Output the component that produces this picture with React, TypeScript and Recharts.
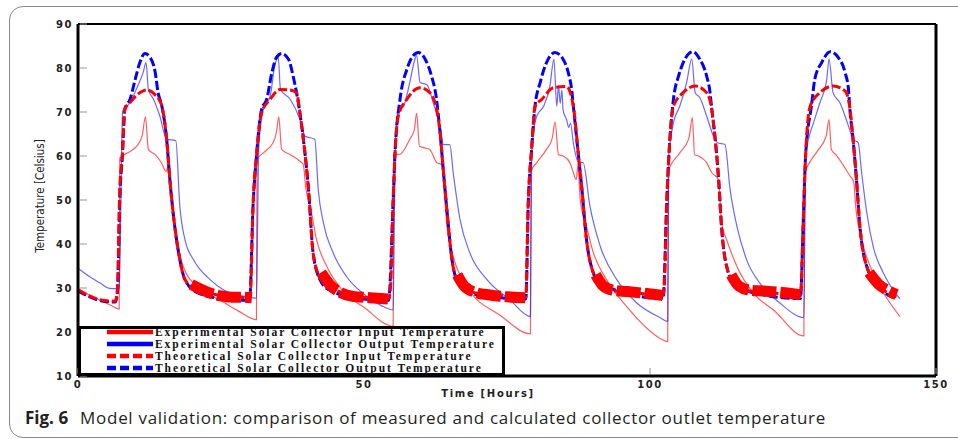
import React from "react";
import { LineChart, Line, XAxis, YAxis, Legend } from "recharts";

type Pt = [number, number | null];

// [time in hours, temperature in Celsius]
const expInput: Pt[] = [
  [0, 29.8], [2, 28.4], [4, 27.1], [6, 25.9], [7.2, 25.2],
  [7.3, 59.5], [8.8, 60.8], [10.3, 62.3], [11.2, 64.5], [11.8, 68.9], [12.3, 61.5], [13.5, 60.3], [14.6, 58.4],
  [15.4, 56.5], [15.8, 58], [16.3, 52], [16.7, 47.1], [17.3, 41], [18.4, 34.9], [20.8, 30.3], [24.8, 27.3], [28, 24.8], [31.2, 22.8],
  [31.3, 59.2], [32.4, 60.7], [34.1, 63], [34.7, 65.5], [35.1, 68.9], [35.6, 61.5], [37.1, 60.3], [38.8, 58.8], [39.4, 58],
  [39.8, 53], [40.6, 48.6], [41.7, 41], [43.5, 34.9], [46.4, 29.2], [50, 25.6], [55.1, 21.3],
  [55.2, 60.3], [56.3, 60.4], [58, 63.8], [58.8, 66], [59.2, 69.7], [59.7, 62.2], [61.5, 61.5], [62.7, 58.5], [63.6, 58],
  [64, 53.9], [64.5, 44], [65.6, 37.2], [68, 30.3], [73.8, 23.8], [79.1, 19.6],
  [79.2, 56.5], [80.2, 58.5], [81.9, 61.5], [82.9, 64], [83.4, 67.7], [84, 60.3], [84.8, 60], [86, 58.5], [86.6, 56.2],
  [87.1, 54.6], [87.4, 58], [87.8, 50.1], [88.9, 44], [90.1, 38], [92.4, 31.9], [95.9, 25.8], [101.7, 18.6], [103.1, 17.8],
  [103.2, 56.5], [105.2, 60.7], [106.8, 64], [107.4, 68.7], [107.8, 60.3], [108.5, 60], [109.9, 58.5], [110.8, 56.2],
  [112, 54.6], [112.5, 44.8], [113.4, 41], [115.2, 34.9], [118.1, 28.8], [121.6, 25], [126.9, 19.1],
  [127.1, 56.2], [127.9, 58.5], [129.2, 61], [130.8, 64.5], [131.3, 68.3], [131.7, 61.5], [132.5, 60.3], [135, 55.4],
  [135.6, 54.2], [136, 48], [137, 41], [139, 33.4], [141.5, 27.5], [143.7, 23.5],
];

const expOutput: Pt[] = [
  [0, 34.5], [2, 32.6], [4, 31], [5.5, 29.9], [7.2, 29.8],
  [7.4, 40], [7.6, 59], [7.8, 70.2], [9.1, 72.1], [10.3, 75.5], [11.4, 79], [11.9, 81.2], [12.3, 75.1], [13.2, 72.9],
  [14.3, 69.1], [15.5, 63.8], [17.1, 63.5], [17.8, 48.6], [18.7, 41], [20.2, 36.4], [23.1, 31.9], [25.4, 29.6], [28.5, 28.3], [31.2, 27.7],
  [31.4, 45], [31.6, 62], [32.4, 70.6], [33.6, 73.6], [34.4, 80.5], [35, 82.4], [35.4, 75.1], [37.1, 72.9], [38.8, 68.3],
  [39.7, 64.5], [41.4, 63.8], [42, 52.4], [42.9, 44.8], [44.6, 38], [47, 32.5], [50, 28.6], [53, 26], [55.1, 25],
  [55.3, 45], [55.5, 63.8], [56, 70.6], [56.9, 71.3], [58, 76.7], [58.9, 82], [59.2, 82.8], [59.8, 76.7], [61, 76.2],
  [62.1, 72.1], [63.3, 66.8], [63.9, 62.6], [65, 62.6], [65.6, 56.2], [66.8, 45.5], [68.5, 38], [71.5, 31.9], [75.5, 27.3], [79.1, 23.5],
  [79.3, 58.5], [79.5, 63.8], [80.2, 69.1], [81.4, 71.3], [82.5, 75.9], [83.2, 82], [83.7, 71.3], [84, 76], [84.3, 72],
  [84.6, 75], [84.8, 70.5], [85.4, 68.3], [85.8, 66.5], [86.1, 67.5], [86.6, 63], [87.5, 58.5], [88.3, 58.5], [89.5, 48.6],
  [91.3, 39.5], [94.2, 31.9], [97.7, 26.6], [101.7, 23.3], [103.1, 22.4],
  [103.3, 60.7], [103.6, 63.8], [104.1, 67.6], [105.2, 71.3], [106.4, 76.7], [107.3, 82], [107.9, 74.4], [108.7, 73.3],
  [109.9, 69.1], [111.1, 64.5], [111.8, 63], [113.1, 62.6], [114, 52.4], [115.2, 44], [116.9, 36.4], [119.2, 31.1], [122.7, 26.6], [126.9, 23.3],
  [127.2, 60.3], [127.7, 63.8], [128.6, 67.6], [129.7, 72.1], [130.9, 77.4], [131.3, 82], [132, 74.4], [133.2, 72.1],
  [134.7, 66.8], [135.5, 63.8], [136.4, 63], [137, 56.2], [137.9, 47.1], [139, 39.5], [140.8, 33.4], [143.7, 27.5],
];

const theoInput: Pt[] = [
  [0, 29.6], [2, 28.2], [4, 27.3], [6.5, 27],
  [6.9, 30], [7.3, 52.4], [7.75, 60], [8.2, 70.7], [9, 72], [10.8, 74.4], [12, 75], [13.4, 74], [14.6, 71.7], [14.9, 69.8],
  [15.5, 63.8], [16.1, 54], [16.7, 46.3], [17.5, 38.7], [18.7, 31.9], [20.8, 29.6], [23, 28.8], [26, 28.1], [30, 27.8],
  [30.2, 30], [30.6, 48.6], [31.2, 60], [32.1, 69.8], [33.6, 72.9], [35.3, 75.1], [37, 75], [38.2, 74.4], [38.8, 69.8],
  [39.4, 63.8], [40.3, 52.4], [41.1, 38], [42.3, 32.5], [44, 30.5], [47, 28.5], [50, 27.9], [54.3, 27.6],
  [54.6, 29.5], [55.1, 50.1], [55.4, 60], [56, 69.1], [57.5, 72.9], [59.8, 75.5], [61.5, 74.4], [62.7, 70.6], [63.3, 65.3],
  [63.9, 56.2], [64.6, 46.3], [65.3, 37.2], [66.2, 31.9], [68.5, 29.2], [72, 28.5], [75, 28.2], [78.3, 28],
  [78.7, 48.6], [79.3, 61.5], [79.9, 71.3], [81.1, 72.9], [83.1, 75.5], [85.4, 75.8], [86.6, 71.3], [87.5, 60], [88.1, 52.4],
  [88.9, 41], [90.1, 33.4], [91.3, 31.2], [94, 29.3], [98, 28.8], [102.3, 28.3],
  [102.6, 33.4], [102.9, 48.6], [103.3, 60], [104.1, 71.3], [105.8, 74.4], [107.9, 75.9], [109.9, 74.4], [110.8, 70.6],
  [111.4, 63.8], [112, 54.6], [112.5, 44], [113.4, 34.9], [115.2, 30.3], [118, 29.2], [122, 28.8], [126.3, 28.2],
  [126.8, 45.5], [127.2, 60], [128, 71.3], [129.7, 74.4], [132, 75.9], [134.1, 74.8], [134.9, 71.3], [135.5, 63.8],
  [136.1, 54.6], [136.7, 44], [137.9, 34.9], [140.2, 30.3], [143.1, 28],
];

const theoOutput: Pt[] = [
  [0, 29.3], [2, 28], [4, 27.1], [6.5, 26.8],
  [6.9, 29], [7.3, 50], [7.75, 60], [8.2, 70.7], [9.1, 72.9], [10, 77.4], [10.8, 81.2], [11.7, 83.3], [12.6, 82.4], [13.5, 79],
  [14, 74.4], [14.6, 71.7], [15.5, 63.8], [16.1, 54], [16.7, 46.3], [17.5, 38.7], [18.7, 31.9], [20.8, 29], [25, 27.6], [30, 27.2],
  [30.6, 48.6], [31.2, 60], [32.1, 70.6], [33, 72.9], [33.9, 79], [34.7, 82.4], [35.6, 83.3], [36.8, 82], [37.6, 78.2],
  [38.2, 74.4], [38.8, 69.8], [39.4, 63.8], [40.3, 52.4], [41.1, 38], [42.3, 31.9], [44, 29.5], [50, 27.5], [54.3, 27.2],
  [55.1, 50.1], [55.4, 60], [56.3, 72.9], [57.5, 79.7], [58.6, 82.8], [59.5, 83.5], [60.7, 82], [61.8, 78.2], [62.6, 73.6],
  [63.3, 65.3], [63.9, 56.2], [64.6, 46.3], [65.3, 37.2], [66.2, 31.9], [68.5, 28.8], [78.3, 27.5],
  [78.7, 48.6], [79.3, 61.5], [79.9, 71.3], [80.8, 76.7], [81.9, 81.2], [83.4, 83.5], [84.8, 82], [85.7, 79], [86.3, 75.1],
  [86.6, 71.3], [87.5, 60], [88.1, 52.4], [88.9, 41], [90.1, 33.4], [91.3, 31], [102.3, 27.6],
  [102.9, 48.6], [103.3, 60], [104.1, 72.9], [105, 78.2], [106.1, 82], [107.5, 83.7], [108.7, 82], [109.9, 78.2],
  [110.5, 74.4], [110.8, 70.6], [111.4, 63.8], [112, 54.6], [112.5, 44], [113.4, 34.9], [115.2, 30], [126.3, 27.6],
  [126.8, 45.5], [127.2, 60], [128.3, 72.1], [128.8, 77.4], [130, 81.2], [131.5, 83.7], [132.9, 82.4], [134.1, 79],
  [134.7, 75.1], [134.9, 71.3], [135.5, 63.8], [136.1, 54.6], [136.7, 44], [137.9, 34.9], [140.2, 30], [143.1, 27.6],
];

// the chattering band of the theoretical input at night (band centre)
const theoInputNight: Pt[] = [
  [19.8, 30.8], [21, 30], [23, 28.9], [25, 28.2], [27, 27.9], [29, 27.9], [30.4, 27.8], [31, null],
  [42.5, 33.5], [44, 30.8], [46, 28.9], [48, 28.1], [51, 27.8], [54.2, 27.5], [55, null],
  [66.3, 33], [67.5, 30.5], [69.5, 29], [72, 28.4], [75, 28], [78.2, 27.8], [79, null],
  [90.5, 33], [91.8, 30.5], [93.5, 29.5], [96, 29.2], [99, 28.8], [102.2, 28.3], [103, null],
  [114.2, 33], [115.5, 30.5], [117.5, 29.5], [120, 29.3], [123, 29], [126.3, 28.5], [127, null],
  [138.3, 33.5], [140, 30.8], [141.5, 29.5], [143.1, 28.5],
];

const xTicks = [0, 50, 100, 150];
const yTicks = [10, 20, 30, 40, 50, 60, 70, 80, 90];

const legendItems = [
  { name: "Experimental Solar Collector Input Temperature", color: "#ff0000", dash: undefined },
  { name: "Experimental Solar Collector Output Temperature", color: "#0000ff", dash: undefined },
  { name: "Theoretical Solar Collector Input Temperature", color: "#ff0000", dash: "9 4" },
  { name: "Theoretical Solar Collector Output Temperature", color: "#0000ff", dash: "9 4" },
];

const rows = (pts: Pt[]) => pts.map(([t, v]) => ({ t, v }));

const tickFont = {
  fontFamily: "'DejaVu Sans', sans-serif",
  fontWeight: 700,
  fontSize: 10,
  letterSpacing: 1.5,
  fill: "#222",
};

const BottomTick = ({ x, y, payload }: any) => (
  <g>
    <line x1={x} x2={x} y1={y - 2} y2={y - 8} stroke="#999" strokeWidth={1} />
    <text x={x} y={y + 8} textAnchor="middle" dominantBaseline="central" {...tickFont}>
      {payload.value}
    </text>
  </g>
);

const LeftTick = ({ x, y, payload }: any) => (
  <g>
    <line x1={x + 2} x2={x + 9} y1={y} y2={y} stroke="#999" strokeWidth={1} />
    <text x={x - 5} y={y} textAnchor="end" dominantBaseline="central" {...tickFont}>
      {payload.value}
    </text>
  </g>
);

const RightTick = ({ x, y }: any) => (
  <line x1={x - 2} x2={x - 9} y1={y} y2={y} stroke="#999" strokeWidth={1} />
);

const YTitle = ({ viewBox }: any) => {
  const cx = viewBox.x - 8;
  const cy = viewBox.y + viewBox.height / 2 - 4;
  return (
    <text
      x={cx}
      y={cy}
      transform={`rotate(-90 ${cx} ${cy})`}
      textAnchor="middle"
      dominantBaseline="central"
      fontFamily="'Liberation Sans Narrow', 'DejaVu Sans Condensed', sans-serif"
      fontSize={11.5}
      fill="#222"
    >
      Temperature [Celsius]
    </text>
  );
};

const XTitle = ({ viewBox }: any) => (
  <text
    x={viewBox.x + viewBox.width / 2 - 19}
    y={viewBox.y + 17}
    textAnchor="middle"
    dominantBaseline="central"
    {...tickFont}
    letterSpacing={1.7}
  >
    Time [Hours]
  </text>
);

const LegendBox = () => (
  <svg width={427} height={50} style={{ display: "block" }}>
    <rect x={1.5} y={1.5} width={424} height={47} fill="#fff" stroke="#000" strokeWidth={3} />
    {legendItems.map((it, i) => (
      <g key={it.name}>
        <line
          x1={29}
          x2={75}
          y1={6 + i * 12}
          y2={6 + i * 12}
          stroke={it.color}
          strokeWidth={4.5}
          strokeDasharray={it.dash}
        />
        <text
          x={77}
          y={6 + i * 12}
          dominantBaseline="central"
          fontFamily="'Liberation Serif', 'Times New Roman', serif"
          fontWeight={700}
          fontSize={11.5}
          letterSpacing={1.95}
          fill="#111"
        >
          {it.name}
        </text>
      </g>
    ))}
  </svg>
);

export default function App() {
  return (
    <div style={{ position: "absolute", left: 0, top: 0, width: 958, height: 439, overflow: "hidden", background: "#fff" }}>
      <div
        style={{
          position: "absolute",
          left: 9,
          top: 6,
          width: 990,
          height: 430,
          border: "1px solid #888",
          borderRadius: 14,
        }}
      />
      <div style={{ position: "absolute", left: 0, top: 0 }}>
        <LineChart width={958} height={400} margin={{ top: 23, right: 21, bottom: 4, left: 48 }}>
          <XAxis
            dataKey="t"
            type="number"
            domain={[0, 150]}
            ticks={xTicks}
            allowDataOverflow
            height={20}
            tickSize={0}
            tickMargin={0}
            tickLine={false}
            axisLine={{ stroke: "#000", strokeWidth: 3 }}
            tick={<BottomTick />}
            label={<XTitle />}
          />
          <XAxis
            xAxisId="top"
            orientation="top"
            dataKey="t"
            type="number"
            domain={[0, 150]}
            height={1}
            tick={false}
            tickLine={false}
            axisLine={{ stroke: "#000", strokeWidth: 2 }}
          />
          <YAxis
            type="number"
            domain={[10, 90]}
            ticks={yTicks}
            width={30}
            tickSize={0}
            tickMargin={0}
            tickLine={false}
            axisLine={{ stroke: "#000", strokeWidth: 3 }}
            tick={<LeftTick />}
            label={<YTitle />}
          />
          <YAxis
            yAxisId="right"
            orientation="right"
            type="number"
            domain={[10, 90]}
            ticks={yTicks}
            width={1}
            tickSize={0}
            tickMargin={0}
            tickLine={false}
            axisLine={{ stroke: "#000", strokeWidth: 3 }}
            tick={<RightTick />}
          />
          <Line
            data={rows(expInput)}
            dataKey="v"
            name="Experimental Solar Collector Input Temperature"
            type="monotone"
            stroke="#ff2a2a"
            strokeOpacity={0.75}
            strokeWidth={1.2}
            dot={false}
            isAnimationActive={false}
          />
          <Line
            data={rows(expOutput)}
            dataKey="v"
            name="Experimental Solar Collector Output Temperature"
            type="monotone"
            stroke="#2a2aff"
            strokeOpacity={0.7}
            strokeWidth={1.2}
            dot={false}
            isAnimationActive={false}
          />
          <Line
            data={rows(theoOutput)}
            dataKey="v"
            name="Theoretical Solar Collector Output Temperature"
            type="monotone"
            stroke="#0000ff"
            strokeWidth={3}
            strokeDasharray="9 3"
            dot={false}
            isAnimationActive={false}
          />
          <Line
            data={rows(theoInput)}
            dataKey="v"
            name="Theoretical Solar Collector Input Temperature"
            type="monotone"
            stroke="#ff0000"
            strokeWidth={3}
            strokeDasharray="9 3"
            dot={false}
            isAnimationActive={false}
          />
          <Line
            data={rows(theoInputNight)}
            dataKey="v"
            name="night"
            legendType="none"
            type="monotone"
            stroke="#ff0000"
            strokeWidth={11}
            strokeDasharray="24 4"
            dot={false}
            isAnimationActive={false}
          />
          <Legend
            layout="horizontal"
            verticalAlign="middle"
            align="center"
            wrapperStyle={{ left: 78, top: 326, width: 427, height: 50 }}
            content={() => <LegendBox />}
          />
        </LineChart>
      </div>
      <div
        style={{
          position: "absolute",
          left: 25,
          top: 406,
          fontFamily: "'Open Sans', 'Noto Sans', sans-serif",
          fontSize: 17,
          color: "#231f20",
          whiteSpace: "nowrap",
        }}
      >
        <b>Fig. 6</b>
        <span style={{ marginLeft: 12, letterSpacing: 0.7 }}>
          Model validation: comparison of measured and calculated collector outlet temperature
        </span>
      </div>
    </div>
  );
}
